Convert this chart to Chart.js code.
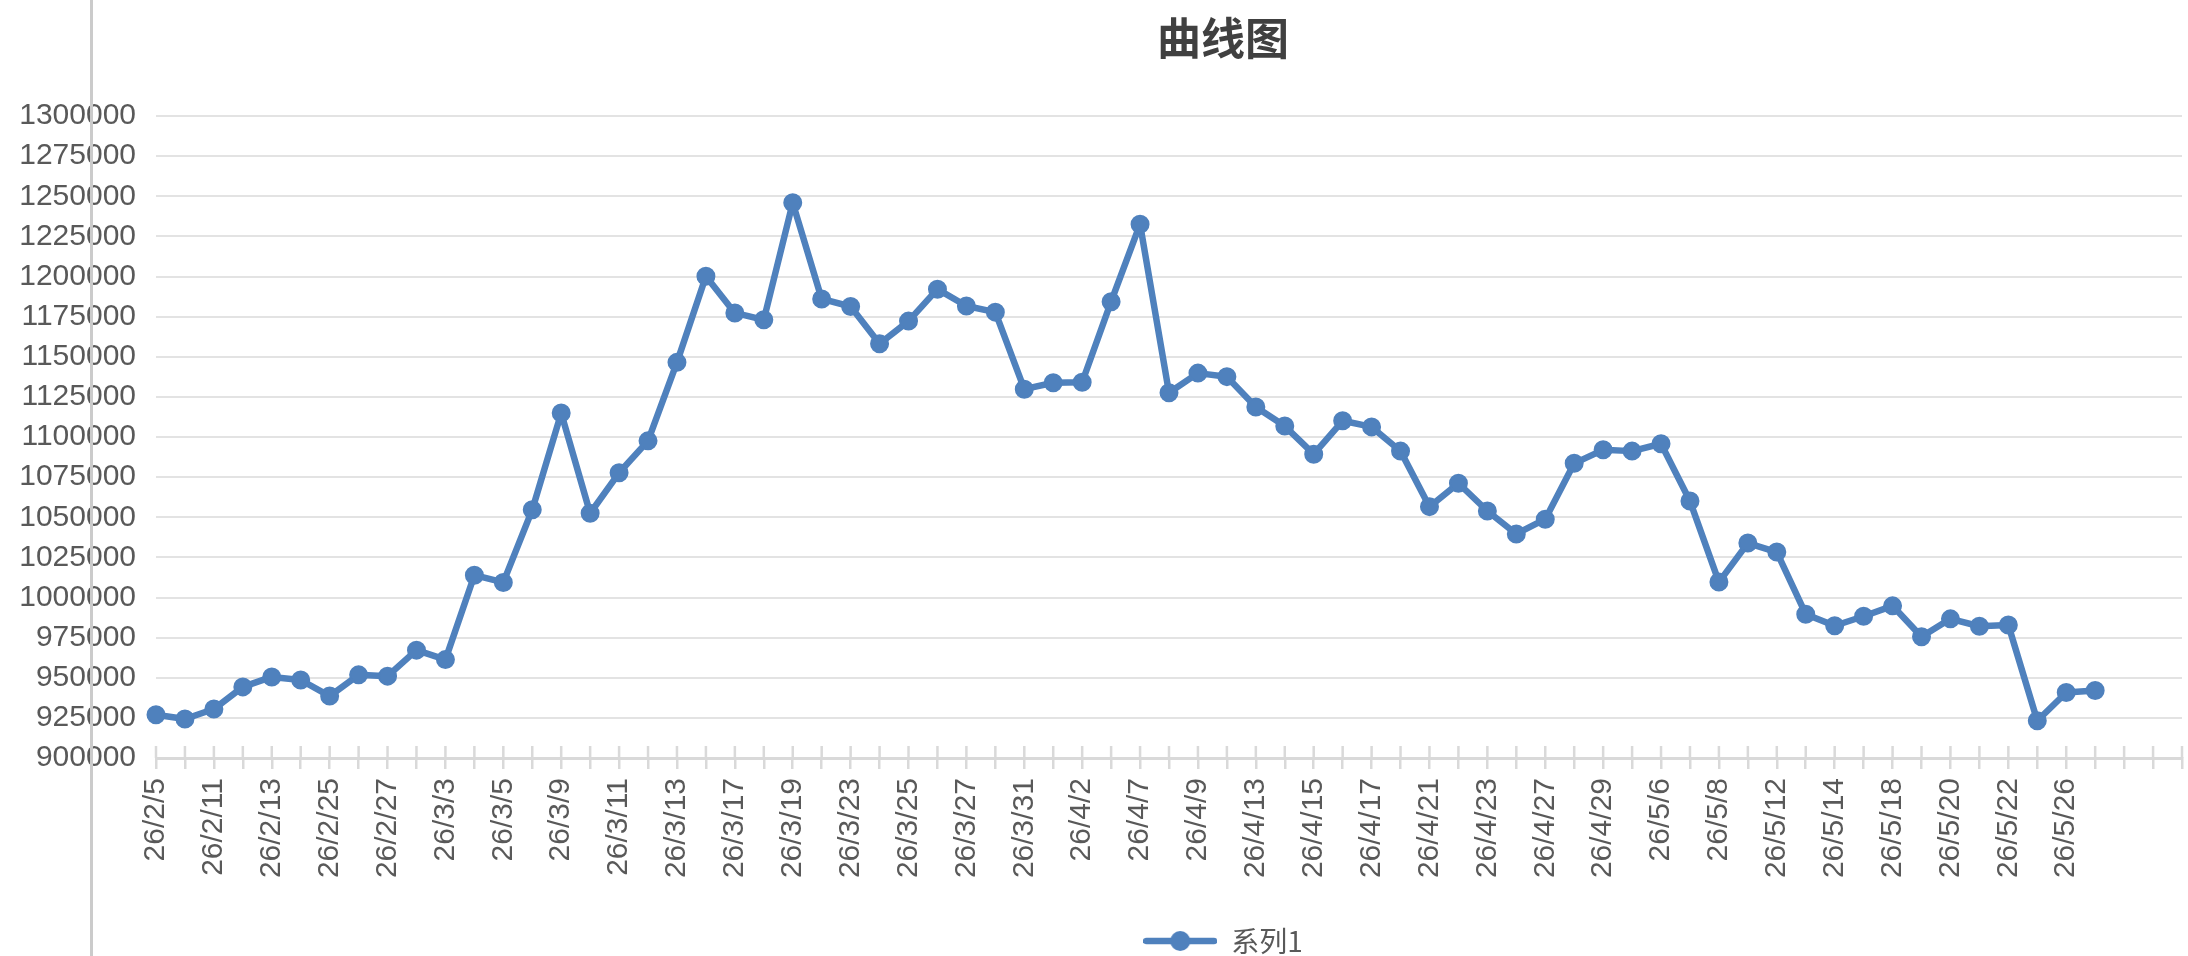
<!DOCTYPE html>
<html>
<head>
<meta charset="utf-8">
<title>曲线图</title>
<script src="https://cdn.jsdelivr.net/npm/chart.js@4.4.1/dist/chart.umd.min.js"></script>
<style>
  html, body { margin: 0; padding: 0; background: #fff; overflow: hidden; }
  #wrap { position: relative; width: 2188px; height: 956px; overflow: hidden; }
  #chart { position: absolute; left: 0; top: 0; }
  /* grey sheet border that runs over the y labels */
  #edge { position: absolute; left: 90px; top: 0; width: 3px; height: 956px; background: #cbcbcb; z-index: 2; }
</style>
</head>
<body>
<div id="wrap">
  <canvas id="chart" width="2446" height="965"></canvas>
  <div id="edge"></div>
</div>
<script>
// dates on the category axis (only every second one gets a label)
const dates = [
  '26/2/5', '26/2/10', '26/2/11', '26/2/12', '26/2/13', '26/2/24', '26/2/25', '26/2/26',
  '26/2/27', '26/3/2', '26/3/3', '26/3/4', '26/3/5', '26/3/6', '26/3/9', '26/3/10',
  '26/3/11', '26/3/12', '26/3/13', '26/3/16', '26/3/17', '26/3/18', '26/3/19', '26/3/20',
  '26/3/23', '26/3/24', '26/3/25', '26/3/26', '26/3/27', '26/3/30', '26/3/31', '26/4/1',
  '26/4/2', '26/4/3', '26/4/7', '26/4/8', '26/4/9', '26/4/10', '26/4/13', '26/4/14',
  '26/4/15', '26/4/16', '26/4/17', '26/4/20', '26/4/21', '26/4/22', '26/4/23', '26/4/24',
  '26/4/27', '26/4/28', '26/4/29', '26/4/30', '26/5/6', '26/5/7', '26/5/8', '26/5/11',
  '26/5/12', '26/5/13', '26/5/14', '26/5/15', '26/5/18', '26/5/19', '26/5/20', '26/5/21',
  '26/5/22', '26/5/25', '26/5/26', '26/5/27'
];
// empty rows at the end of the range still take a slot on the axis
const blankRows = ['', '', ''];

const series1 = [
  927000, 924300, 930500, 944300, 950500, 948600, 938600, 951800,
  951000, 967200, 961300, 1013900, 1009400, 1054700, 1114900, 1052500,
  1077700, 1097600, 1146500, 1200200, 1177300, 1173000, 1245900, 1186000,
  1181300, 1158100, 1172200, 1192100, 1181600, 1177800, 1129800, 1133800,
  1134100, 1184300, 1232600, 1127600, 1139800, 1137600, 1118700, 1106800,
  1089300, 1110100, 1106300, 1091200, 1056600, 1071200, 1053900, 1039600,
  1048800, 1083600, 1092000, 1091200, 1095800, 1060100, 1009600, 1033900,
  1028300, 989600, 982400, 988300, 994800, 975600, 986700, 982100,
  982900, 923200, 940800, 942100
];

const yMin = 900000;
const yMax = 1300000;
const yStep = 25000;

const blue = '#4f81bd';
const axisGrey = '#d9d9d9';
const textGrey = '#595959';

// legend marker: short line with a dot, like the spreadsheet legend
const legendMark = document.createElement('canvas');
legendMark.width = 74;
legendMark.height = 22;
(function () {
  const c = legendMark.getContext('2d');
  c.strokeStyle = blue;
  c.lineWidth = 6.5;
  c.lineCap = 'round';
  c.beginPath();
  c.moveTo(3, 11);
  c.lineTo(71, 11);
  c.stroke();
  c.fillStyle = blue;
  c.beginPath();
  c.arc(37, 11, 10, 0, Math.PI * 2);
  c.fill();
})();

// tick marks also poke up above the category axis
const upperTicks = {
  id: 'upperTicks',
  beforeDatasetsDraw(chart) {
    const x = chart.scales.x;
    const ctx = chart.ctx;
    ctx.save();
    ctx.strokeStyle = axisGrey;
    ctx.lineWidth = 2.5;
    ctx.beginPath();
    for (let i = 0; i < x.ticks.length; i++) {
      const px = x.getPixelForTick(i);
      ctx.moveTo(px, x.top - 12);
      ctx.lineTo(px, x.top);
    }
    ctx.stroke();
    ctx.restore();
  }
};

const ctx = document.getElementById('chart').getContext('2d');
new Chart(ctx, {
  type: 'line',
  data: {
    labels: dates.concat(blankRows),
    datasets: [{
      label: '系列1',
      data: series1,
      borderColor: blue,
      backgroundColor: blue,
      borderWidth: 6.5,
      borderJoinStyle: 'round',
      borderCapStyle: 'round',
      pointRadius: 8.5,
      pointBorderWidth: 2,
      pointBackgroundColor: blue,
      pointBorderColor: blue,
      tension: 0
    }]
  },
  options: {
    responsive: false,
    animation: false,
    devicePixelRatio: 1,
    layout: { padding: 0 },
    plugins: {
      title: {
        display: true,
        text: '曲线图',
        color: '#404040',
        font: { family: "'Noto Sans CJK SC', sans-serif", size: 44, weight: 'bold' },
        padding: { top: 12, bottom: 51.2 }
      },
      legend: {
        position: 'bottom',
        labels: {
          usePointStyle: true,
          pointStyle: legendMark,
          pointStyleWidth: 74,
          padding: 10,
          color: textGrey,
          font: { family: "'Noto Sans CJK SC', sans-serif", size: 28 }
        }
      },
      tooltip: { enabled: false }
    },
    scales: {
      x: {
        type: 'category',
        offset: false,
        grid: {
          drawOnChartArea: false,
          drawTicks: true,
          tickLength: 11,
          color: axisGrey,
          lineWidth: 2.5
        },
        border: { display: true, color: axisGrey, width: 3 },
        ticks: {
          autoSkip: false,
          minRotation: 90,
          maxRotation: 90,
          padding: 9,
          color: textGrey,
          font: { family: "'Liberation Sans', Arial, sans-serif", size: 30 },
          callback: function (v, i) {
            return i % 2 === 0 ? this.getLabelForValue(v) : '';
          }
        },
        afterFit: s => { s.height = 159; }
      },
      y: {
        min: yMin,
        max: yMax,
        grid: { color: '#e3e3e3', lineWidth: 2, drawTicks: false },
        border: { display: false },
        ticks: {
          stepSize: yStep,
          padding: 20,
          color: textGrey,
          font: { family: "'Liberation Sans', Arial, sans-serif", size: 30 },
          callback: v => String(v)
        },
        afterFit: s => { s.width = 156; }
      },
      // empty right-hand box, keeps the plot end where the sheet had it
      pad: {
        type: 'linear',
        position: 'right',
        display: true,
        grid: { display: false },
        border: { display: false },
        ticks: { display: false },
        afterFit: s => { s.width = 264; }
      }
    }
  },
  plugins: [upperTicks]
});
</script>
</body>
</html>
